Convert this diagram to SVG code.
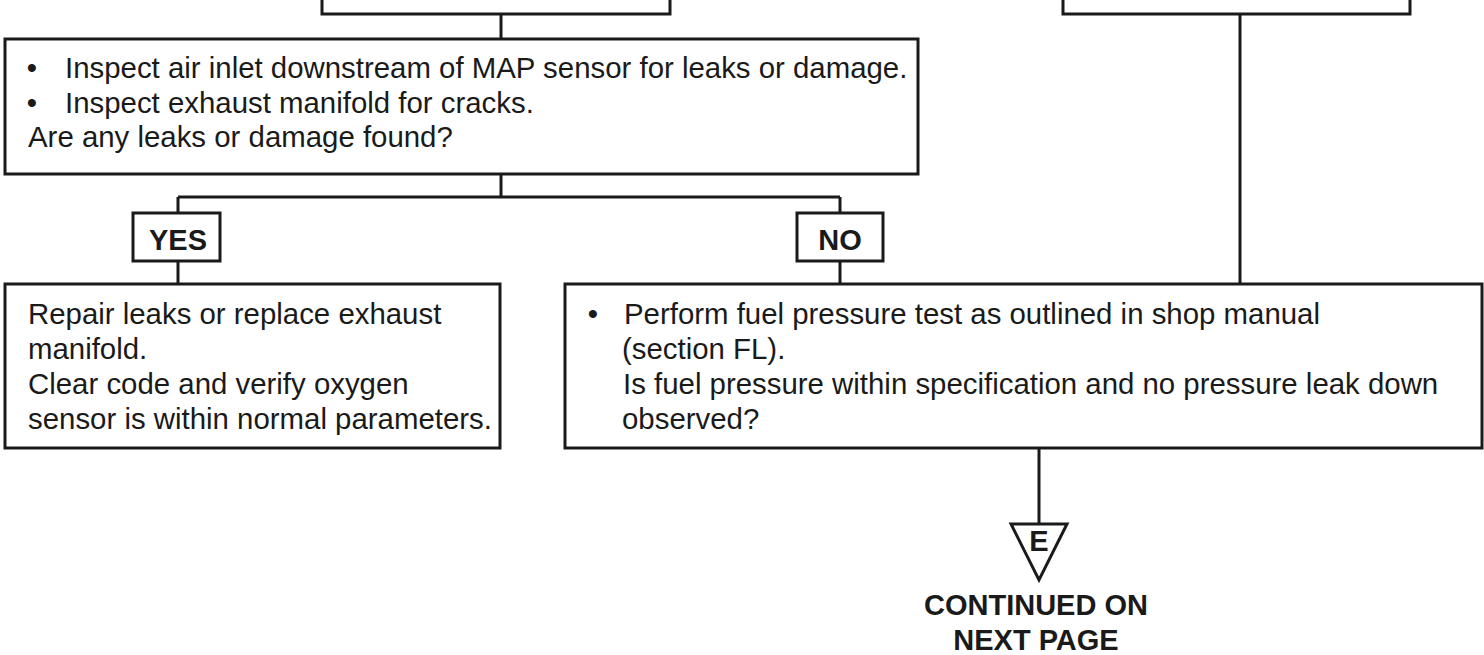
<svg xmlns="http://www.w3.org/2000/svg" width="1484" height="655" viewBox="0 0 1484 655">
  <style>
    .box { fill: #ffffff; stroke: #1a1a1a; stroke-width: 3; }
    .wire { fill: none; stroke: #1a1a1a; stroke-width: 3; }
    .txt { font-family: "Liberation Sans", Arial, sans-serif; font-size: 29.4px; fill: #1a1a1a; }
    .bold { font-family: "Liberation Sans", Arial, sans-serif; font-weight: bold; font-size: 29px; fill: #1a1a1a; text-anchor: middle; }
    .bul { text-anchor: middle; }
  </style>
  <rect width="1484" height="655" fill="#ffffff"/>

  <!-- connectors -->
  <g id="connectors">
    <path class="wire" d="M501 14 V39"/>
    <path class="wire" d="M501 174 V197 M178 197 H840 M178 197 V213 M840 197 V213"/>
    <path class="wire" d="M178 261 V284"/>
    <path class="wire" d="M840 261 V284"/>
    <path class="wire" d="M1240 14 V284"/>
    <path class="wire" d="M1039 448 V524"/>
  </g>

  <!-- boxes continued from the previous page -->
  <g id="prev-left">
    <path class="wire" d="M322 -2 V14 H670 V-2"/>
  </g>
  <g id="prev-right">
    <path class="wire" d="M1063 -2 V14 H1410 V-2"/>
  </g>

  <g id="inspect-inlet">
    <rect class="box" x="5" y="39" width="913" height="135"/>
    <text class="txt bul" x="32" y="78">•</text>
    <text class="txt" x="65" y="78">Inspect air inlet downstream of MAP sensor for leaks or damage.</text>
    <text class="txt bul" x="32" y="112.5">•</text>
    <text class="txt" x="65" y="112.5">Inspect exhaust manifold for cracks.</text>
    <text class="txt" x="28" y="147">Are any leaks or damage found?</text>
  </g>

  <g id="yes">
    <rect class="box" x="133" y="213" width="87" height="48"/>
    <text class="bold" x="178" y="250">YES</text>
  </g>

  <g id="no">
    <rect class="box" x="797" y="213" width="86" height="48"/>
    <text class="bold" x="840" y="250">NO</text>
  </g>

  <g id="repair">
    <rect class="box" x="5" y="284" width="495" height="164"/>
    <text class="txt" x="28" y="324">Repair leaks or replace exhaust</text>
    <text class="txt" x="28" y="359">manifold.</text>
    <text class="txt" x="28" y="394">Clear code and verify oxygen</text>
    <text class="txt" x="28" y="429">sensor is within normal parameters.</text>
  </g>

  <g id="fuel-pressure">
    <rect class="box" x="565" y="284" width="917" height="164"/>
    <text class="txt bul" x="593" y="324">•</text>
    <text class="txt" x="624" y="324">Perform fuel pressure test as outlined in shop manual</text>
    <text class="txt" x="622" y="359">(section FL).</text>
    <text class="txt" x="623" y="394">Is fuel pressure within specification and no pressure leak down</text>
    <text class="txt" x="622" y="429">observed?</text>
  </g>

  <g id="connector-e">
    <path class="wire" d="M1011 524 H1067 L1039 580 Z" stroke-width="2.5" stroke-linejoin="miter"/>
    <text class="bold" x="1039" y="551" font-size="23">E</text>
    <text class="bold" x="1036" y="615">CONTINUED ON</text>
    <text class="bold" x="1036" y="650">NEXT PAGE</text>
  </g>
</svg>
